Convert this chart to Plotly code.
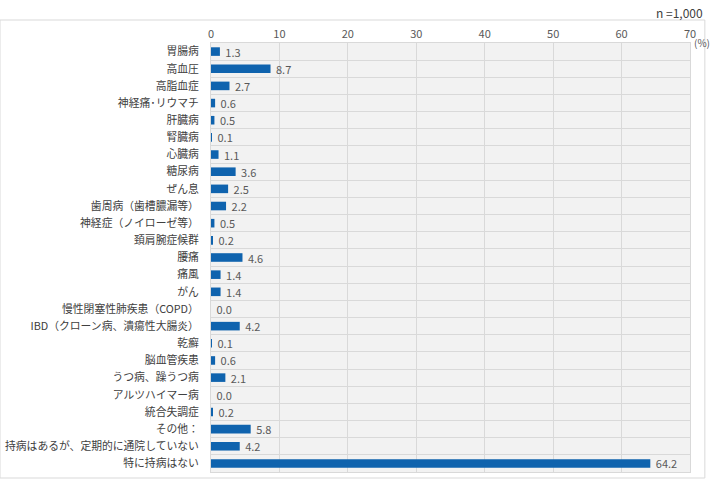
import plotly.graph_objects as go

categories = ["胃腸病", "高血圧", "高脂血症", "神経痛･リウマチ", "肝臓病", "腎臓病", "心臓病", "糖尿病",
              "ぜん息", "歯周病（歯槽膿漏等）", "神経症（ノイローゼ等）", "頚肩腕症候群", "腰痛", "痛風", "がん",
              "慢性閉塞性肺疾患（COPD）", "IBD（クローン病、潰瘍性大腸炎）", "乾癬", "脳血管疾患",
              "うつ病、躁うつ病", "アルツハイマー病", "統合失調症", "その他：",
              "持病はあるが、定期的に通院していない", "特に持病はない"]
values = [1.3, 8.7, 2.7, 0.6, 0.5, 0.1, 1.1, 3.6, 2.5, 2.2, 0.5, 0.2, 4.6, 1.4, 1.4,
          0.0, 4.2, 0.1, 0.6, 2.1, 0.0, 0.2, 5.8, 4.2, 64.2]
xticks = [0, 10, 20, 30, 40, 50, 60, 70]

FONT = "Noto Sans CJK JP, Meiryo, sans-serif"

fig = go.Figure(go.Bar(
    x=values, y=categories, orientation="h",
    marker=dict(color="#0f63ae", line=dict(width=0)),
    width=0.5,
    text=[f" {v:.1f}" for v in values], textposition="outside",
    constraintext="none",
    textfont=dict(size=11, color="#595959", family=FONT),
    cliponaxis=False,
))

fig.update_layout(
    width=720, height=482,
    margin=dict(l=211, r=30, t=43, b=10, autoexpand=False),
    paper_bgcolor="white", plot_bgcolor="#f2f2f2",
    font=dict(family=FONT, color="#404040"),
    showlegend=False,
    xaxis=dict(side="top", range=[0, 70], tickvals=xticks, showgrid=True,
               gridcolor="#d9d9d9", gridwidth=1, zeroline=False,
               tickfont=dict(size=11, color="#595959"), ticks="",
               showline=True, linecolor="#d9d9d9", mirror=True, fixedrange=True,
               automargin=False),
    yaxis=dict(autorange="reversed", type="category", tickson="boundaries",
               showgrid=True, gridcolor="#d9d9d9", gridwidth=1, ticks="",
               tickfont=dict(size=10.8, color="#404040"), ticklabelstandoff=9,
               showline=True, linecolor="#d9d9d9", mirror=True, automargin=False),
    bargap=0.5,
    annotations=[
        dict(text="n =1,000", xref="paper", yref="paper", x=1.031, y=1.072,
             xanchor="right", yanchor="middle", showarrow=False,
             font=dict(size=12, color="#404040")),
        dict(text="(%)", xref="paper", yref="paper", x=1.004, y=1.024,
             xanchor="left", yanchor="top", showarrow=False,
             font=dict(size=10, color="#595959")),
    ],
    shapes=[dict(type="rect", xref="paper", yref="paper", x0=-0.4405, x1=1.031,
                 y0=-0.014, y1=1.0536, line=dict(color="#d9d9d9", width=1),
                 fillcolor="rgba(0,0,0,0)", layer="below")],
)

fig.write_html("out.html")
